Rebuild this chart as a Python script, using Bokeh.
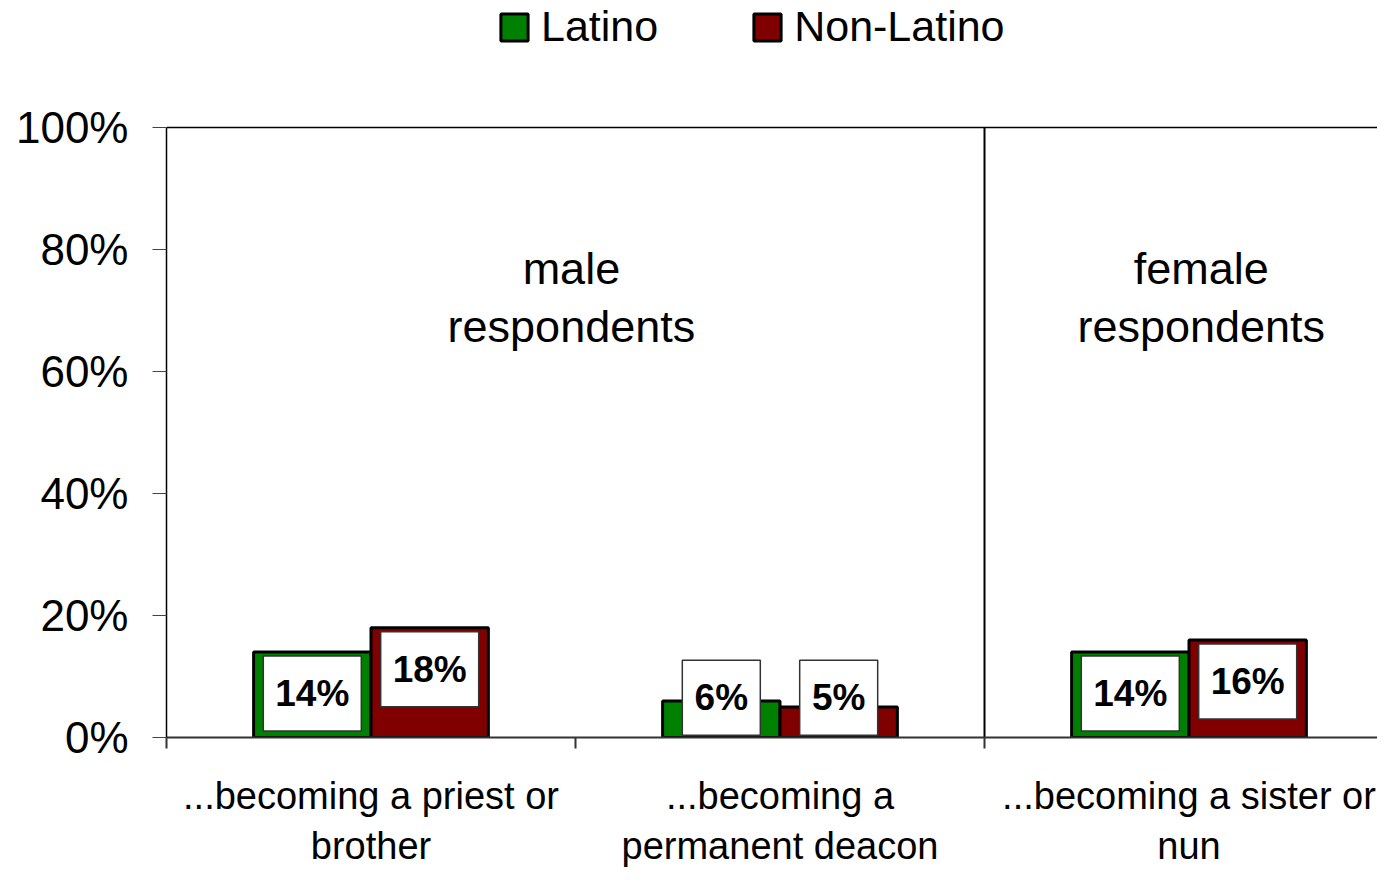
from bokeh.plotting import figure
from bokeh.models import (ColumnDataSource, Range1d, FixedTicker, PrintfTickFormatter,
                          Span, Legend, LegendItem)
from bokeh.core.properties import value
from bokeh.embed import file_html
from bokeh.resources import INLINE

# ---- data ----
categories = ["...becoming a priest or\nbrother",
              "...becoming a\npermanent deacon",
              "...becoming a sister or\nnun"]
latino = [14, 6, 14]
non_latino = [18, 5, 16]
series_names = ["Latino", "Non-Latino"]
group_labels = ["male\nrespondents", "female\nrespondents"]
y_ticks = [0, 20, 40, 60, 80, 100]

FONT = "Liberation Sans"
GREEN = "#008000"
RED = "#800000"

W, H = 1377, 869
LEFT = 166
TOP_PX = 127          # where 100% sits
FRAME_H = 737         # frame height (bottom panel holds the two-line category labels)
CAT_W = 409.0
Y_END = 100.0 * FRAME_H / (FRAME_H - TOP_PX)

p = figure(width=W, height=H, output_backend="svg", toolbar_location=None,
           x_range=Range1d(0, (W - LEFT) / CAT_W), y_range=Range1d(0, Y_END),
           min_border_left=LEFT, min_border_right=0, min_border_top=0,
           min_border_bottom=H - FRAME_H)
p.outline_line_color = None
p.xgrid.visible = False
p.ygrid.visible = False
p.background_fill_color = "white"

n = len(categories)
bw = 0.287
off = 0.1435
xl = [i + 0.5 - off for i in range(n)]
xn = [i + 0.5 + off for i in range(n)]

src_l = ColumnDataSource(dict(x=xl, top=latino))
src_n = ColumnDataSource(dict(x=xn, top=non_latino))
r_l = p.vbar(x="x", top="top", width=bw, source=src_l, fill_color=GREEN,
             line_color="black", line_width=3)
r_n = p.vbar(x="x", top="top", width=bw, source=src_n, fill_color=RED,
             line_color="black", line_width=3)

# data labels in white boxes
lx, ly, lt, lw = [], [], [], []
for xs, vals in ((xl, latino), (xn, non_latino)):
    for x, v in zip(xs, vals):
        lx.append(x)
        ly.append(max(v - 0.8, 12.5) - 6.0)
        t = f"{v}%"
        lt.append(t)
        lw.append(98 if len(t) > 2 else 78)
lab_src = ColumnDataSource(dict(x=lx, y=ly, text=lt, w=lw))
p.rect(x="x", y="y", width="w", height=75, width_units="screen", height_units="screen",
       source=lab_src, fill_color="white", line_color="#333333", line_width=1.5)
p.text(x="x", y="y", text="text", source=lab_src, text_align="center",
       text_baseline="middle", text_font=value(FONT), text_font_style="bold",
       text_font_size="37px", text_color="black")

# group annotations
p.text(x=[0.99, 2.53], y=[72.1, 72.1], text=group_labels, text_align="center",
       text_baseline="middle", text_font=value(FONT), text_font_size="45px",
       text_line_height=1.13, text_color="black")

# separator between male / female groups and top line of plot area
p.segment(x0=[2], y0=[0], x1=[2], y1=[100], line_color="black", line_width=2)
p.add_layout(Span(location=100, dimension="width", line_color="black", line_width=1.5))

# y axis
ya = p.yaxis[0]
ya.ticker = FixedTicker(ticks=y_ticks)
ya.bounds = (0, 100)
ya.formatter = PrintfTickFormatter(format="%d%%")
ya.major_label_text_font = FONT
ya.major_label_text_font_size = "44px"
ya.major_label_text_color = "black"
ya.major_tick_out = 14
ya.major_tick_in = 0
ya.major_tick_line_color = "#444444"
ya.minor_tick_line_color = None
ya.axis_line_color = "black"
ya.axis_line_width = 1.5
ya.major_label_standoff = 24

# x axis
xa = p.xaxis[0]
xa.ticker = FixedTicker(ticks=[i + 0.5 for i in range(n)], minor_ticks=list(range(n + 1)))
xa.major_label_overrides = {i + 0.5: c for i, c in enumerate(categories)}
xa.major_label_text_font = FONT
xa.major_label_text_font_size = "38px"
xa.major_label_text_color = "black"
xa.major_tick_line_color = None
xa.major_tick_out = 0
xa.major_tick_in = 0
xa.minor_tick_out = 11
xa.minor_tick_in = 0
xa.minor_tick_line_color = "#333333"
xa.minor_tick_line_width = 2
xa.axis_line_color = "#333333"
xa.axis_line_width = 2
xa.major_label_standoff = 26

# legend at the top of the plot area
legend = Legend(items=[LegendItem(label=series_names[0], renderers=[r_l]),
                       LegendItem(label=series_names[1], renderers=[r_n])],
                orientation="horizontal", location=(331, FRAME_H - 51),
                glyph_width=34, glyph_height=34, label_standoff=10, spacing=92,
                label_text_font=FONT, label_text_font_size="43px",
                label_text_color="black",
                padding=0, margin=0, border_line_color=None,
                background_fill_alpha=0)
p.add_layout(legend)

open("out.html", "w").write(file_html(p, INLINE))
